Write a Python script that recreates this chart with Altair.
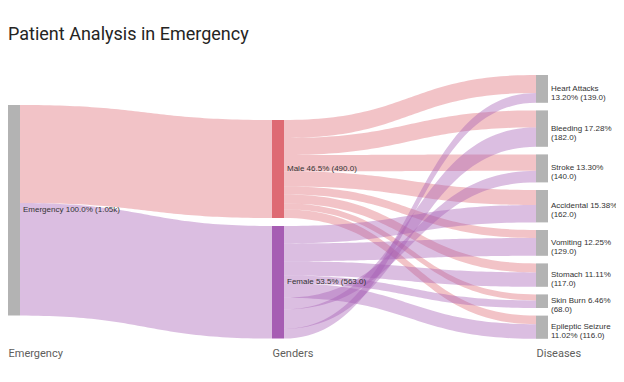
import altair as alt
import pandas as pd
import numpy as np

# ---------------- data ----------------
title_text = "Patient Analysis in Emergency"
columns = ["Emergency", "Genders", "Diseases"]
root = "Emergency"
genders = ["Male", "Female"]
diseases = ["Heart Attacks", "Bleeding", "Stroke", "Accidental",
            "Vomiting", "Stomach", "Skin Burn", "Epileptic Seizure"]
male_counts = [90, 85, 82, 75, 40, 45, 30, 43]
female_counts = [49, 97, 58, 87, 89, 72, 38, 73]
# order in which the Female links leave the Female node (top to bottom)
female_link_order = ["Accidental", "Vomiting", "Stomach", "Skin Burn",
                     "Epileptic Seizure", "Stroke", "Bleeding", "Heart Attacks"]

# ---------------- layout constants ----------------
NODE_W = 12 / 264          # node width in column units
COL_TOP = {0: 185, 1: 260, 2: 35}   # top of each column (patient units)
COL_GAP = {1: 40, 2: 38}            # gap between nodes in a column
Y_MAX = 1365

counts = {"Male": dict(zip(diseases, male_counts)),
          "Female": dict(zip(diseases, female_counts))}
g_tot = {g: sum(counts[g].values()) for g in genders}
d_tot = {d: counts["Male"][d] + counts["Female"][d] for d in diseases}
total = sum(g_tot.values())

nodes = {}
nodes[root] = dict(col=0, y0=COL_TOP[0], y1=COL_TOP[0] + total, grp="Node",
                   label=f"{root} {100:.1f}% ({total/1000:.2f}k)")
y = COL_TOP[1]
for g in genders:
    v = g_tot[g]
    nodes[g] = dict(col=1, y0=y, y1=y + v, grp=g,
                    label=f"{g} {v/total*100:.1f}% ({v:.1f})")
    y += v + COL_GAP[1]
y = COL_TOP[2]
for d in diseases:
    v = d_tot[d]
    pct = v / total * 100
    if len(d) > 10:
        lab = f"{d}\n{pct:.2f}% ({v:.1f})"
    else:
        lab = f"{d} {pct:.2f}%\n({v:.1f})"
    nodes[d] = dict(col=2, y0=y, y1=y + v, grp="Node", label=lab)
    y += v + COL_GAP[2]

node_df = pd.DataFrame([
    dict(name=k, x0=n["col"], x1=n["col"] + NODE_W, y0=n["y0"], y1=n["y1"],
         yc=(n["y0"] + n["y1"]) / 2, grp=n["grp"], label=n["label"])
    for k, n in nodes.items()
])

# links: (src, tgt, value, grp, src_y, tgt_y)
links = []
sy = nodes[root]["y0"]
for g in genders:
    links.append((root, g, g_tot[g], g, sy, nodes[g]["y0"]))
    sy += g_tot[g]

tgt_off = {d: nodes[d]["y0"] for d in diseases}
tgt_y = {}
for g in genders:
    for d in diseases:
        tgt_y[(g, d)] = tgt_off[d]
        tgt_off[d] += counts[g][d]
src_order = {"Male": diseases, "Female": female_link_order}
for g in genders:
    sy = nodes[g]["y0"]
    for d in src_order[g]:
        v = counts[g][d]
        links.append((g, d, v, g, sy, tgt_y[(g, d)]))
        sy += v

t = np.linspace(0, 1, 60)
rows = []
for i, (s, tg, v, grp, sy, ty) in enumerate(links):
    xa = nodes[s]["col"] + NODE_W
    xb = nodes[tg]["col"]
    xs = xa + (xb - xa) * (1.5 * t - 1.5 * t**2 + t**3)
    ys = sy + (ty - sy) * (3 * t**2 - 2 * t**3)
    for xx, yy in zip(xs, ys):
        rows.append(dict(link=f"{s}->{tg}", grp=grp, x=xx, y0=yy, y1=yy + v))
link_df = pd.DataFrame(rows)

# ---------------- chart ----------------
x_scale = alt.Scale(domain=[0, 2 + NODE_W], nice=False, zero=False)
y_scale = alt.Scale(domain=[0, Y_MAX], reverse=True, nice=False, zero=False)
color_scale = alt.Scale(domain=["Male", "Female", "Node"],
                        range=["#DE6A73", "#A65DB3", "#B3B3B3"])
label_expr = "[" + ",".join(f"'{c}'" for c in columns) + "][datum.value]"
x_axis = alt.Axis(values=list(range(len(columns))), labelExpr=label_expr,
                  grid=False, domain=False, ticks=False, title=None,
                  labelAlign="left", labelBaseline="top", labelPadding=6,
                  labelFlush=False, labelFont="Roboto", labelFontSize=11,
                  labelColor="#605E5C")

link_layer = alt.Chart(link_df).mark_area(opacity=0.4).encode(
    x=alt.X("x:Q", scale=x_scale, axis=x_axis),
    y=alt.Y("y0:Q", scale=y_scale, axis=None),
    y2="y1:Q",
    color=alt.Color("grp:N", scale=color_scale, legend=None),
    detail="link:N",
)

node_layer = alt.Chart(node_df).mark_rect().encode(
    x=alt.X("x0:Q", scale=x_scale, axis=x_axis),
    x2="x1:Q",
    y=alt.Y("y0:Q", scale=y_scale, axis=None),
    y2="y1:Q",
    color=alt.Color("grp:N", scale=color_scale, legend=None),
)

label_layer = alt.Chart(node_df).mark_text(
    align="left", baseline="middle", dx=3, font="Liberation Sans",
    fontSize=8, lineHeight=9, color="#333333", lineBreak="\n"
).encode(
    x=alt.X("x1:Q", scale=x_scale, axis=x_axis),
    y=alt.Y("yc:Q", scale=y_scale, axis=None),
    text="label:N",
)

chart = alt.layer(link_layer, node_layer, label_layer).properties(
    width=540, height=273,
    padding={"left": 0, "top": 60, "right": 68, "bottom": 33},
    autosize=alt.AutoSizeParams(type="none"),
    title=alt.Title(title_text, anchor="start", fontSize=18, font="Roboto",
                    fontWeight="normal", color="#252423", offset=24),
).configure_view(stroke=None)

chart.save("out.html", embed_options={"renderer": "svg", "actions": False})
